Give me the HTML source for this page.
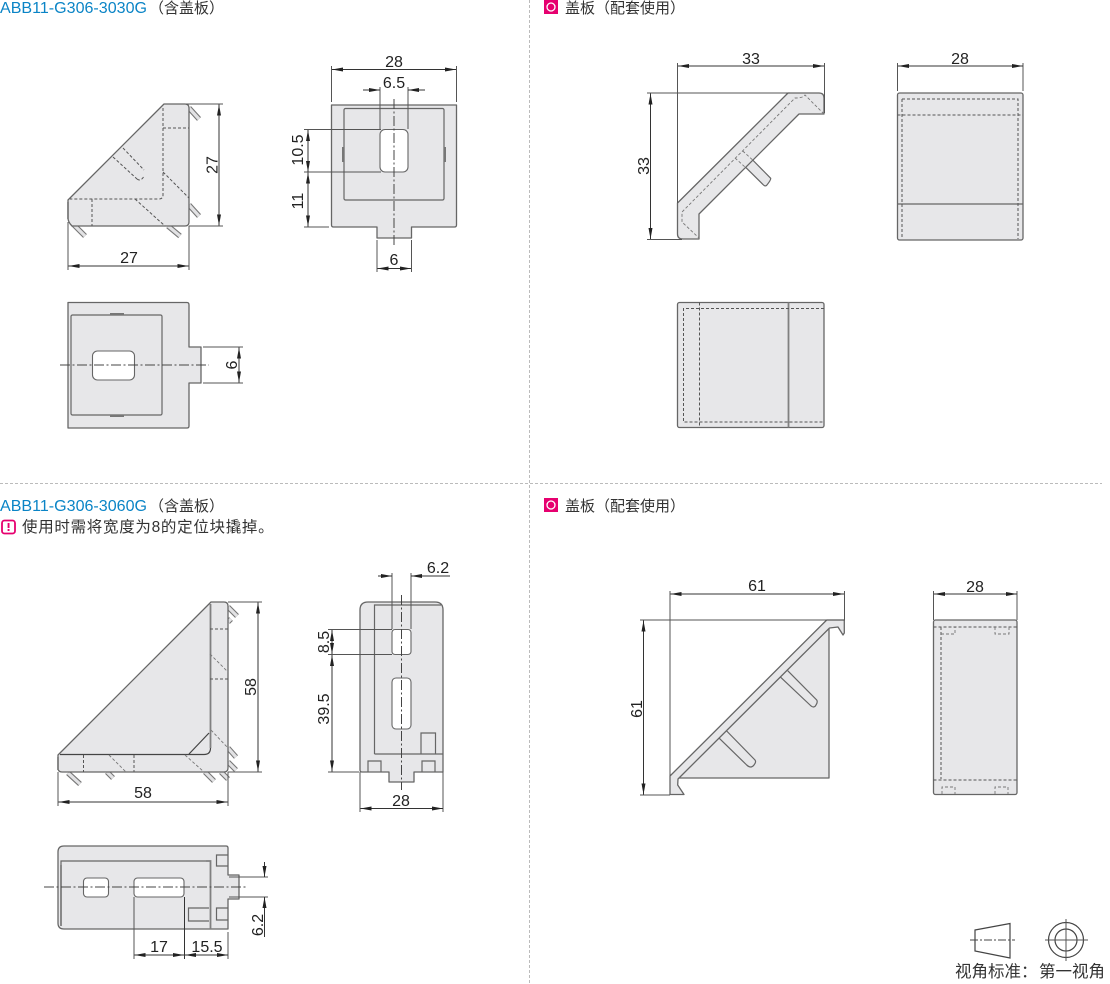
<!DOCTYPE html>
<html><head><meta charset="utf-8"><style>
html,body{margin:0;padding:0;background:#fff}
svg{display:block}
text{font-family:"Liberation Sans","Noto Sans CJK SC",sans-serif;fill:#333}
.n{font-size:16px;text-anchor:middle;fill:#222}
.o{fill:#e7e7e9;stroke:#666;stroke-width:1.3;stroke-linejoin:round}
.s{fill:none;stroke:#666;stroke-width:1.2}
.g{fill:none;stroke:#808080;stroke-width:1.8}
.w{fill:#fff;stroke:#666;stroke-width:1.1}
.h{fill:none;stroke:#555;stroke-width:1;stroke-dasharray:3 2}
.t{fill:none;stroke:#777;stroke-width:.9;stroke-dasharray:3 2}
.d{stroke:#333;stroke-width:1;fill:none}
.e{stroke:#555;stroke-width:1;fill:none}
.c{stroke:#444;stroke-width:1;fill:none;stroke-dasharray:10 2.5 2 2.5}
.a{marker-end:url(#ar);marker-start:url(#ar)}
.b{marker-end:url(#ar)}
.p1{stroke:#777;stroke-width:5.4;fill:none}
.p2{stroke:#e2e2e4;stroke-width:3.2;fill:none}
.sep{stroke:#bbb;stroke-width:1;stroke-dasharray:3 2;fill:none}
</style></head><body>
<svg width="1110" height="984" viewBox="0 0 1110 984" xmlns="http://www.w3.org/2000/svg">
<defs>
<marker id="ar" markerUnits="userSpaceOnUse" markerWidth="12" markerHeight="8" refX="11" refY="4" orient="auto-start-reverse"><path d="M0,2 L11,4 L0,6 Z" fill="#222"/></marker>
</defs>

<!-- separators -->
<path class="sep" d="M529.5 0V984M0 483.5H1102"/>

<!-- headers -->
<text x="0" y="13" font-size="15.5" textLength="147" lengthAdjust="spacingAndGlyphs" style="fill:#0a84c6">ABB11-G306-3030G</text>
<text x="149" y="13" font-size="15">（含盖板）</text>
<rect x="544" y="0" width="14" height="14" fill="#e6006f"/><circle cx="551" cy="7" r="4" fill="#e6006f" stroke="#fff" stroke-width="1.3"/>
<text x="565" y="13" font-size="15">盖板（配套使用）</text>

<text x="0" y="511" font-size="15.5" textLength="147" lengthAdjust="spacingAndGlyphs" style="fill:#0a84c6">ABB11-G306-3060G</text>
<text x="149" y="511" font-size="15">（含盖板）</text>
<rect x="2" y="520.5" width="13" height="13" rx="2.5" fill="#fff" stroke="#e6006f" stroke-width="1.8"/>
<rect x="7.6" y="523" width="1.9" height="5" fill="#e6006f"/><rect x="7.6" y="529" width="1.9" height="2" fill="#e6006f"/>
<text x="22" y="532" font-size="15.5" letter-spacing=".7">使用时需将宽度为8的定位块撬掉。</text>
<rect x="544" y="498" width="14" height="14" fill="#e6006f"/><circle cx="551" cy="505" r="4" fill="#e6006f" stroke="#fff" stroke-width="1.3"/>
<text x="565" y="511" font-size="15">盖板（配套使用）</text>

<!-- VIEW 1 -->
<g>
<path class="p1" d="M189 108L199 119M189 205L199 216M168 226L180 236M73 224L85 236"/>
<path class="p2" d="M189 108L199 119M189 205L199 216M168 226L180 236M73 224L85 236"/>
<path class="o" d="M68 200L164 104H185Q189 104 189 108V222Q189 226 185 226H72Q68 222 68 218Z"/>
<path class="g" d="M68 202V219"/>
<path class="h" d="M163 108V195Q163 199 159 199H70M92 199V226M163 128H189M163 172L189 198M135 199L165 226M123 148L144 170M113 157L137 179M137 179Q141 182 144 176"/>
<path class="e" d="M186 104H223M189 226H223M68 222V270M189 226V270"/>
<path class="d a" d="M219 104.5V225.5"/><path class="d a" d="M68.5 266H188.5"/>
<text class="n" x="129" y="263">27</text>
<text class="n" transform="rotate(-90 217.500 165)" x="217.500" y="165">27</text>
</g>

<!-- VIEW 2 -->
<g>
<path class="o" d="M331.500 105H456.500V225Q456.500 227 454.500 227H411.500V238H377V227H333.500Q331.500 227 331.500 225Z"/>
<rect x="344" y="108.500" width="100" height="91.500" rx="1.500" fill="none" stroke="#666" stroke-width="1.2"/>
<rect x="342" y="147" width="2" height="15" fill="#777"/><rect x="444" y="147" width="2" height="15" fill="#777"/>
<rect class="w" x="380" y="129.500" width="28" height="42.500" rx="5"/>
<path class="c" d="M394 99V245"/>
<path class="e" d="M331.500 66V102M456.500 66V102M380 87V129M408 87V129M304 129.500H381M304 172H381M304 227H329M377 240V272M411.500 240V272"/>
<path class="d a" d="M332 69.500H456"/>
<path class="d b" d="M363 90H380"/><path class="d b" d="M425 90H408"/>
<path class="d a" d="M308 130V172"/><path class="d a" d="M308 172.500V226.500"/>
<path class="d a" d="M377.500 268.500H411"/>
<text class="n" x="394" y="67">28</text><text class="n" x="394" y="88">6.5</text><text class="n" x="394" y="265">6</text>
<text class="n" transform="rotate(-90 303 150)" x="303" y="150">10.5</text>
<text class="n" transform="rotate(-90 303 201)" x="303" y="201">11</text>
</g>

<!-- VIEW 3 -->
<g>
<path class="o" d="M68 302.500H187Q189 302.500 189 305V347H201V383H189V426Q189 428 187 428H68Z"/>
<rect x="71" y="315" width="91" height="100" rx="1.500" fill="none" stroke="#666" stroke-width="1.2"/>
<rect x="110" y="313" width="14" height="2" fill="#777"/><rect x="110" y="415" width="14" height="2" fill="#777"/>
<rect class="w" x="92.500" y="351" width="42" height="29" rx="5"/>
<path class="c" d="M60 365H209"/>
<path class="e" d="M203 347H243M203 383H243"/>
<path class="d a" d="M239 347.500V382.500"/>
<text class="n" transform="rotate(-90 237 365)" x="237" y="365">6</text>
</g>

<!-- VIEW 4 -->
<g>
<path class="s" style="fill:#e7e7e9" d="M752.700 160L770.700 178.300Q771 180 766.500 185.500Q765 186.500 763.500 185L745 166.700"/>
<path class="o" d="M677.500 203L788 93H819Q824 93 824 98V114H799L699 214V239H683Q677.500 239 677.500 234Z"/>
<path class="t" d="M824 114L805 95Q803 98 795 98L682 212V222L699 238M735 158L745 167M742.700 151L752.700 160"/>
<path class="e" d="M677.500 63V203M824.500 63V113M647 93H790M647 239.500H682"/>
<path class="d a" d="M678 66H824"/><path class="d a" d="M650.500 93.500V239"/>
<text class="n" x="751" y="64">33</text>
<text class="n" transform="rotate(-90 649 166)" x="649" y="166">33</text>
</g>

<!-- VIEW 5 -->
<g>
<rect class="o" x="897.500" y="93" width="125.500" height="147" rx="2"/>
<path class="s" d="M897.500 204H1023"/>
<path class="h" d="M902 99H1018V239M902 99V239M897.500 115H1023"/>
<path class="e" d="M897.500 63V91M1023 63V91"/>
<path class="d a" d="M898 66H1023"/>
<text class="n" x="960" y="64">28</text>
</g>

<!-- VIEW 6 -->
<g>
<rect class="o" x="677.500" y="302.500" width="146.500" height="125" rx="2"/>
<path class="g" d="M788.500 302.500V427.500"/>
<path class="h" d="M824 308.500H683.500V422H824M699.500 302.500V427.500"/>
</g>

<!-- VIEW 7 -->
<g>
<path class="p1" d="M228 607L237 616M228 622L231 619M228 748L236 757M228 762L236 770M205 772L214 781M221 772L228 779M68 773L80 784M107 772L113 778"/>
<path class="p2" d="M228 607L237 616M228 622L231 619M228 748L236 757M228 762L236 770M205 772L214 781M221 772L228 779M68 773L80 784M107 772L113 778"/>
<path class="o" d="M58 755L211 602H224Q228 602 228 606V768Q228 772 224 772H62Q58 772 58 768Z"/>
<path class="g" d="M58 757V770"/>
<path class="g" d="M210.500 604V748"/>
<path class="s" style="stroke:#444" d="M210.500 748Q210.500 754.500 204 754.500H60M189 754L209 733"/>
<path class="h" d="M210 629H228M210 679H228M83.500 755V772M134 755V772"/>
<path class="t" d="M210 654L228 672M211 730L228 748M109 755L126 772M185 755L204 772"/>
<path class="e" d="M228 602H262M228 772H262M58 772V806M228 772V806"/>
<path class="d a" d="M258 602.500V771.500"/><path class="d a" d="M58.500 802H227.500"/>
<text class="n" x="143" y="798">58</text>
<text class="n" transform="rotate(-90 256 687)" x="256" y="687">58</text>
</g>

<!-- VIEW 8 -->
<g>
<path class="o" d="M360 610Q360 602 368 602H435Q443 602 443 610V772H414V782H389V772H362Q360 772 360 770Z"/>
<path class="s" d="M374.500 754V605H441M374.500 754H443"/>
<rect class="w" x="392" y="629.500" width="19" height="25" rx="3"/>
<rect class="w" x="392" y="678" width="19" height="51" rx="4"/>
<path class="s" d="M421 754V733H435.500V754M368 772V761H381V772M422 772V761H435V772"/>
<path class="c" d="M401.500 595V790"/>
<path class="e" d="M392 573V629M411 573V629M328 629.500H392M328 654.500H392M328 772H359M360 772V812M443 772V812"/>
<path class="d b" d="M378 576H392"/><path class="d b" d="M450 576H411"/>
<path class="d a" d="M332 630V654"/><path class="d a" d="M332 655V771.500"/>
<path class="d a" d="M360.500 808.500H443"/>
<text class="n" x="438" y="573">6.2</text><text class="n" x="401" y="806">28</text>
<text class="n" transform="rotate(-90 329 642)" x="329" y="642">8.5</text>
<text class="n" transform="rotate(-90 329 709)" x="329" y="709">39.5</text>
</g>

<!-- VIEW 9 -->
<g>
<path class="o" d="M64 846H226Q228 846 228 848V875H239V899H228V929H64Q58 929 58 923V852Q58 846 64 846Z"/>
<path class="s" d="M61 925V861H206"/>
<path class="g" d="M206 861H210.500V929M61 865V926"/>
<rect class="w" x="83.500" y="878" width="25" height="19" rx="3.500"/>
<rect class="w" x="134" y="878" width="50" height="19" rx="3.500"/>
<path class="s" d="M228 855H216.500V866H228M228 908H216.500V920H228M209 908H188.500V921H209"/>
<path class="c" d="M44 887H246"/>
<path class="e" d="M229 877H268M229 897H268M134 897V959M228 932V959"/>
<path class="d" d="M184.500 897V959"/>
<path class="d b" d="M264.500 862V877"/><path class="d b" d="M264.500 937V897"/>
<path class="d a" d="M134.500 955H184"/><path class="d a" d="M185 955H228"/>
<text class="n" x="159" y="952">17</text><text class="n" x="207" y="952">15.5</text>
<text class="n" transform="rotate(-90 263 925)" x="263" y="925">6.2</text>
</g>

<!-- VIEW 10 -->
<g>
<path class="o" d="M678 778L829 628V778Z"/>
<path class="o" d="M670 776L826.700 620H844.300V633L843 635L838 627L829.500 628L678 779L677.700 785L684 794.500H670Z"/>
<path class="s" d="M780.700 677.300L810 705Q814 709 816 705Q818 702 816.700 700L787.700 670.700M719.300 738.300L746.700 765Q751 769 754 765Q756.500 762 755 760L726.700 731"/>
<path class="e" d="M670 591V776M844.500 591V620M640 620H845M640 795H670"/>
<path class="d a" d="M670.500 594H844"/><path class="d a" d="M643.500 620.500V794.500"/>
<text class="n" x="757" y="591">61</text>
<text class="n" transform="rotate(-90 642 709)" x="642" y="709">61</text>
</g>

<!-- VIEW 11 -->
<g>
<rect class="o" x="933.500" y="620" width="83.500" height="174.500" rx="2"/>
<path class="h" d="M933.500 627H1017M933.500 780H1017M941 627V779"/>
<path class="t" d="M941 634H955V627M995 627V634H1009V627M942 794V787H955V794M995 794V787H1008V794"/>
<path class="e" d="M933.500 591V620M1017 591V620"/>
<path class="d a" d="M934 594H1017"/>
<text class="n" x="975" y="592">28</text>
</g>

<!-- Legend -->
<g>
<path class="s" style="stroke:#444" d="M975 930L1010 923.500V958L975 951Z"/>
<path class="c" style="stroke-dasharray:8 2 2 2" d="M970 940H1015"/>
<circle class="s" style="stroke:#444" cx="1066" cy="940" r="17.500"/>
<circle class="s" style="stroke:#444" cx="1066" cy="940" r="11"/>
<path class="e" d="M1045 940H1088M1066 919V961"/>
<text x="955" y="977" font-size="16.500">视角标准：</text>
<text x="1039" y="977" font-size="16.500">第一视角</text>
</g>
</svg>
</body></html>
